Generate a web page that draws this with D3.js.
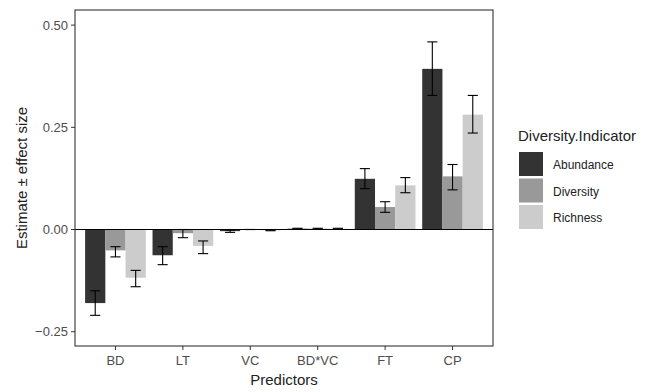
<!DOCTYPE html>
<html>
<head>
<meta charset="utf-8">
<script src="https://cdn.jsdelivr.net/npm/d3@7"></script>
<style>
  body { margin: 0; background: #fff; }
  text { font-family: "Liberation Sans", Arial, sans-serif; }
</style>
</head>
<body>
<script>
var w = 662, h = 392;

// data
var predictors = ["BD", "LT", "VC", "BD*VC", "FT", "CP"];
var indicators = ["Abundance", "Diversity", "Richness"];
var colors = ["#333333", "#999999", "#cccccc"];
var abundance = [-0.180, -0.063, -0.004, 0.002, 0.124, 0.393];
var abundanceLo = [-0.210, -0.086, -0.007, 0.001, 0.100, 0.328];
var abundanceHi = [-0.150, -0.042, -0.001, 0.003, 0.149, 0.459];
var diversity = [-0.051, -0.009, 0.000, 0.002, 0.055, 0.130];
var diversityLo = [-0.067, -0.020, 0.000, 0.001, 0.042, 0.097];
var diversityHi = [-0.042, 0.000, 0.000, 0.003, 0.068, 0.159];
var richness = [-0.118, -0.040, -0.002, 0.002, 0.108, 0.281];
var richnessLo = [-0.140, -0.059, -0.003, 0.001, 0.090, 0.236];
var richnessHi = [-0.100, -0.028, -0.001, 0.003, 0.127, 0.328];
var yTicks = [-0.25, 0, 0.25, 0.5];

var series = [
  {name: indicators[0], v: abundance, lo: abundanceLo, hi: abundanceHi},
  {name: indicators[1], v: diversity, lo: diversityLo, hi: diversityHi},
  {name: indicators[2], v: richness, lo: richnessLo, hi: richnessHi}
];
var rows = [];
predictors.forEach(function(p, i) {
  series.forEach(function(s, j) {
    rows.push({pred: p, ind: s.name, k: j, v: s.v[i], lo: s.lo[i], hi: s.hi[i]});
  });
});

var pLeft = 75, pRight = 493, pTop = 10, pBottom = 346;

var svg = d3.select("body").append("svg")
  .attr("width", w).attr("height", h);

// ggplot-like discrete scale: 0.6 expansion each side
var x = d3.scalePoint().domain(predictors)
  .range([pLeft, pRight]).padding(0.6);
var unit = x.step();
var barW = unit * 0.9 / 3;

var y = d3.scaleLinear().domain([-0.285, 0.537]).range([pBottom, pTop]);

// bars
svg.append("g").selectAll("rect")
  .data(rows)
  .enter()
  .append("rect")
  .attr("x", function(d) { return x(d.pred) - 1.5 * barW + d.k * barW; })
  .attr("width", barW)
  .attr("y", function(d) { return y(Math.max(0, d.v)); })
  .attr("height", function(d) { return Math.abs(y(d.v) - y(0)); })
  .attr("fill", function(d) { return colors[d.k]; });

// zero line
svg.append("line")
  .attr("x1", pLeft).attr("x2", pRight)
  .attr("y1", y(0)).attr("y2", y(0))
  .attr("stroke", "#000").attr("stroke-width", 1);

// error bars
var eb = svg.append("g").attr("stroke", "#000").attr("stroke-width", 1.1);
var capW = barW * 0.5;
rows.forEach(function(d) {
  var c = x(d.pred) - barW + d.k * barW;
  eb.append("line").attr("x1", c).attr("x2", c).attr("y1", y(d.lo)).attr("y2", y(d.hi));
  eb.append("line").attr("x1", c - capW / 2).attr("x2", c + capW / 2).attr("y1", y(d.lo)).attr("y2", y(d.lo));
  eb.append("line").attr("x1", c - capW / 2).attr("x2", c + capW / 2).attr("y1", y(d.hi)).attr("y2", y(d.hi));
});

// panel border
svg.append("rect")
  .attr("x", pLeft).attr("y", pTop)
  .attr("width", pRight - pLeft).attr("height", pBottom - pTop)
  .attr("fill", "none").attr("stroke", "#333").attr("stroke-width", 1.1);

// y axis
var yAxis = svg.append("g");
yTicks.forEach(function(t) {
  yAxis.append("line").attr("x1", pLeft - 4).attr("x2", pLeft)
    .attr("y1", y(t)).attr("y2", y(t)).attr("stroke", "#333");
  yAxis.append("text").attr("x", pLeft - 7).attr("y", y(t) + 4.5)
    .attr("text-anchor", "end").attr("font-size", 13).attr("fill", "#4d4d4d")
    .text(d3.format(".2f")(t));
});

// x axis
var xAxis = svg.append("g");
predictors.forEach(function(p) {
  xAxis.append("line").attr("x1", x(p)).attr("x2", x(p))
    .attr("y1", pBottom).attr("y2", pBottom + 4).attr("stroke", "#333");
  xAxis.append("text").attr("x", x(p)).attr("y", pBottom + 19)
    .attr("text-anchor", "middle").attr("font-size", 13).attr("fill", "#4d4d4d")
    .text(p);
});

svg.append("text").attr("x", (pLeft + pRight) / 2).attr("y", 385)
  .attr("text-anchor", "middle").attr("font-size", 15).attr("fill", "#222")
  .text("Predictors");
svg.append("text")
  .attr("transform", "translate(27," + ((pTop + pBottom) / 2) + ") rotate(-90)")
  .attr("text-anchor", "middle").attr("font-size", 15).attr("fill", "#222")
  .text("Estimate \u00b1 effect size");

// legend
var lg = svg.append("g");
lg.append("text").attr("x", 518).attr("y", 141)
  .attr("font-size", 15).attr("fill", "#222").text("Diversity.Indicator");
indicators.forEach(function(n, i) {
  lg.append("rect").attr("x", 519).attr("y", 152 + i * 26.5)
    .attr("width", 24).attr("height", 24).attr("fill", colors[i]);
  lg.append("text").attr("x", 553).attr("y", 169 + i * 26.5)
    .attr("font-size", 12).attr("fill", "#222").text(n);
});
</script>
</body>
</html>
